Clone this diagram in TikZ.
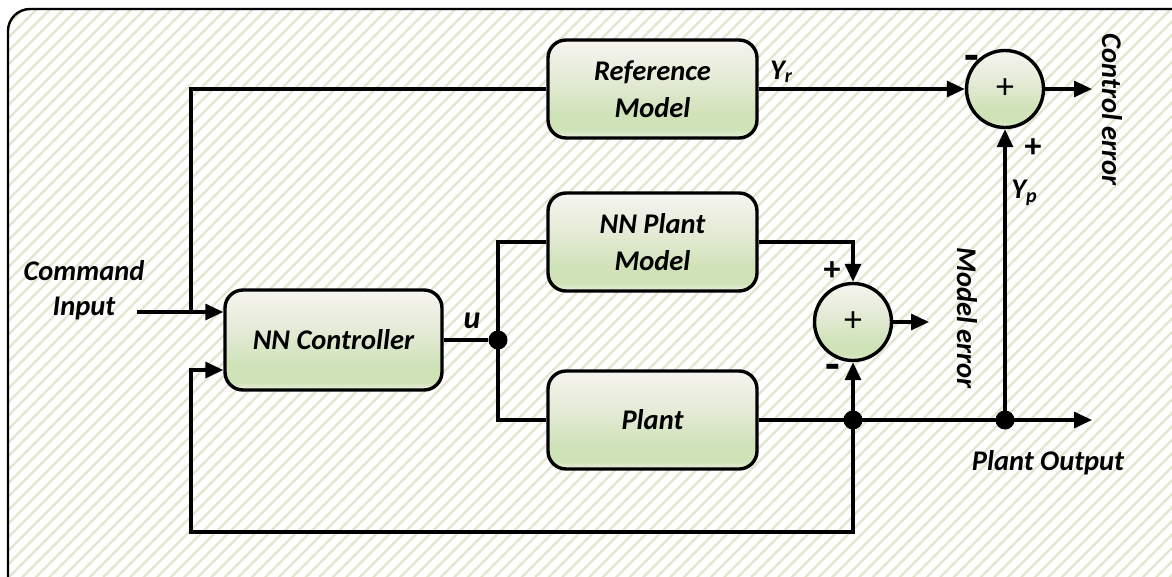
\documentclass[tikz,border=0pt]{standalone}
\usepackage{fontspec}
\setmainfont{Carlito}
\usetikzlibrary{arrows.meta,calc}

\definecolor{shTop}{HTML}{F6F4F0}
\definecolor{shMid}{HTML}{E4EBD6}
\definecolor{shLow}{HTML}{CFE2B8}
\definecolor{shBot}{HTML}{E8F1DC}
\definecolor{hatch}{RGB}{226,229,207}

% glassy green panel fill, light at the top, green near the bottom
\pgfdeclareverticalshading{panel}{100bp}{%
  color(0bp)=(shBot); color(25bp)=(shBot); color(29bp)=(shLow);
  color(37bp)=(shLow); color(55bp)=(shMid); color(75bp)=(shTop);
  color(100bp)=(shTop)}

\tikzset{
  wire/.style={line width=3.2pt},
  arr/.style={wire,-{Triangle[length=18pt,width=16pt]}},
  blk/.style={draw,line width=3.4pt,rounded corners=18pt,shading=panel,
    minimum width=209pt,minimum height=98pt,align=center,
    font=\fontsize{28.5}{37}\selectfont\bfseries\itshape},
  sumnode/.style={draw,circle,line width=3.4pt,shading=panel,
    minimum size=77pt,inner sep=0pt,font=\fontsize{36}{36}\selectfont},
  dot/.style={circle,fill=black,minimum size=19pt,inner sep=0pt},
  lbl/.style={font=\fontsize{28.5}{35}\selectfont\bfseries\itshape,align=center},
  sgn/.style={font=\fontsize{34}{34}\selectfont\bfseries},
  neg/.style={font=\fontsize{48}{48}\selectfont\bfseries},
}

\begin{document}
\begin{tikzpicture}[x=1pt,y=-1pt]
\useasboundingbox (0,0) rectangle (1172,576);

% framed, hatched background
\begin{scope}
  \clip[rounded corners=22pt] (8,9) rectangle (1200,600);
  \foreach \a in {-608,-594.5,...,1200}
    \draw[hatch,line width=2.4pt] (\a,600) -- (\a+600,0);
\end{scope}
\draw[line width=2.4pt,rounded corners=22pt] (8,9) rectangle (1200,600);

% blocks
\node[blk] (ref) at (652.5,89)  {Reference\\Model};
\node[blk] (pm)  at (652.5,242) {NN Plant\\Model};
\node[blk] (pl)  at (652.5,420) {Plant};
\node[blk,minimum width=217pt,minimum height=100pt] (ctl) at (333.5,340) {NN Controller};

% summing junctions
\node[sumnode] (s1) at (1005,89)  {+};
\node[sumnode] (s2) at (853,322)  {+};

% branch points
\node[dot] (j1) at (498,340) {};
\node[dot] (j2) at (853,420) {};
\node[dot] (j3) at (1005,420) {};

% free ends and corners
\coordinate (cin)  at (137,312);
\coordinate (cbr)  at (191,312);
\coordinate (fb)   at (191,532);
\coordinate (pout) at (1092,420);
\coordinate (cerr) at (1092,89);
\coordinate (merr) at (929,322);

% command input and reference branch
\draw[arr] (cin) -- (cin -| ctl.west);
\draw[wire] (cbr) |- (ref.west);

% controller output to both models
\draw[wire] (ctl.east) -- (j1);
\draw[wire] (pm.west) -| (j1.center) |- (pl.west);

% plant output, feedback and error paths
\draw[arr] (pl.east) -- (pout);
\draw[arr] (j2.center) -- (s2.south);
\draw[arr] (j2.center) |- (fb) |- ($(ctl.west)+(0,30)$);
\draw[arr] (pm.east) -| (s2.north);
\draw[arr] (s2.east) -- (merr);
\draw[arr] (j3.center) -- (s1.south);
\draw[arr] (ref.east) -- (s1.west);
\draw[arr] (s1.east) -- (cerr);

% labels
\node[lbl] (tcmd) at (84,290) {Command\\Input};
\node[lbl,font=\fontsize{32}{32}\selectfont\bfseries\itshape] (tu) at (472,321) {u};
\node[lbl] (tyr) at (781,72) {Y\raisebox{-0.25ex}{\fontsize{20}{20}\selectfont r}};
\node[lbl] (typ) at (1024,193) {Y\raisebox{-0.25ex}{\fontsize{20}{20}\selectfont p}};
\node[lbl] (tpo) at (1048,463) {Plant Output};
\node[lbl,rotate=-90] (tme) at (967,318) {Model error};
\node[lbl,rotate=-90] (tce) at (1112,110) {Control error};

% signs at the junction inputs
\node[neg] (m1) at (972,63)  {-};
\node[sgn] (p1) at (1033,148) {+};
\node[sgn] (p2) at (832,271) {+};
\node[neg] (m2) at (833,372) {-};
\end{tikzpicture}
\end{document}
